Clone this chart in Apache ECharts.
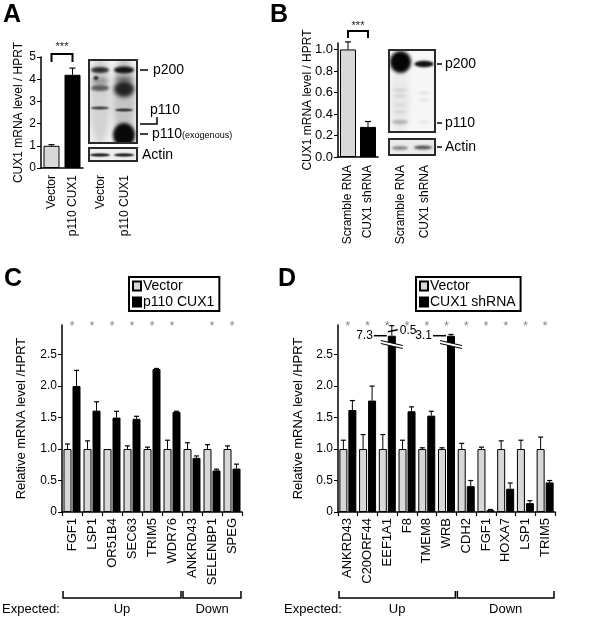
<!DOCTYPE html>
<html><head><meta charset="utf-8">
<script src="https://cdn.jsdelivr.net/npm/echarts@6/dist/echarts.min.js"></script>
<style>html,body{margin:0;padding:0;background:#fff}#c{width:600px;height:617px}</style>
</head><body><div id="c"></div>
<script>
// ---------------- DATA ----------------
const aCats = ['Vector', 'p110 CUX1'];
const aVals = [1.0, 4.2];
const aErr = [0.05, 0.3];
const aTicks = [0, 1, 2, 3, 4, 5];

const bCats = ['Scramble RNA', 'CUX1 shRNA'];
const bVals = [1.0, 0.28];
const bErr = [0.07, 0.05];
const bTicks = [0, 0.2, 0.4, 0.6, 0.8, 1.0];

const cCats = ['FGF1', 'LSP1', 'OR51B4', 'SEC63', 'TRIM5', 'WDR76', 'ANKRD43', 'SELENBP1', 'SPEG'];
const cVector = [1, 1, 1, 1, 1, 1, 1, 1, 1];
const cVectorErr = [0.08, 0.13, 0.0, 0.05, 0.03, 0.14, 0.1, 0.07, 0.05];
const cCux = [2.0, 1.61, 1.5, 1.48, 2.27, 1.59, 0.86, 0.66, 0.69];
const cCuxErr = [0.25, 0.14, 0.1, 0.04, 0.01, 0.01, 0.03, 0.02, 0.07];
const cSig = [0, 1, 2, 3, 4, 5, 7, 8];
const cGroups = [[0, 5], [6, 8]];
const cGroupNames = ['Up', 'Down'];

const dCats = ['ANKRD43', 'C20ORF44', 'EEF1A1', 'F8', 'TMEM8', 'WRB', 'CDH2', 'FGF1', 'HOXA7', 'LSP1', 'TRIM5'];
const dVector = [1, 1, 1, 1, 1, 1, 1, 1, 1, 1, 1];
const dVectorErr = [0.14, 0.23, 0.23, 0.14, 0.02, 0.02, 0.09, 0.03, 0.13, 0.14, 0.19];
const dSh = [1.62, 1.77, 7.3, 1.6, 1.53, 3.1, 0.41, 0.03, 0.37, 0.14, 0.47];
const dShErr = [0.15, 0.23, 0.5, 0.07, 0.07, 0.02, 0.09, 0.01, 0.09, 0.04, 0.03];
const dSig = [0, 1, 2, 3, 4, 5, 6, 7, 8, 9, 10];
const dGroups = [[0, 5], [6, 10]];
const dGroupNames = ['Up', 'Down'];

const cdTicks = [0, 0.5, 1.0, 1.5, 2.0, 2.5];
const BREAK_AT = 2.8;      // broken bars are drawn up to this value
const BREAK_ERR = 0.16;    // shown whisker on broken bars

// ---------------- STYLE ----------------
const FONT = '"Liberation Sans", Arial, Helvetica, sans-serif';
const GRAY = '#d8d8d8', BLACK = '#000';

const chart = echarts.init(document.getElementById('c'), null, {renderer: 'canvas'});

function yAx(grid, max, ticks, fmt, name, nameGap, labelSize, nameSize) {
  return {
    type: 'value', gridIndex: grid, min: 0, max: max,
    name: name, nameLocation: 'middle', nameGap: nameGap, nameMoveOverlap: false,
    nameTextStyle: {fontSize: nameSize, fontFamily: FONT, color: '#000'},
    axisLine: {show: true, lineStyle: {color: '#000', width: 1.5}},
    axisTick: {show: true, length: 4, customValues: ticks, lineStyle: {color: '#000', width: 1}},
    axisLabel: {fontSize: labelSize, fontFamily: FONT, color: '#000', margin: 5, customValues: ticks, formatter: fmt},
    splitLine: {show: false}
  };
}
function xAx(grid, cats, size, margin, ticks) {
  return {
    type: 'category', gridIndex: grid, data: cats,
    axisLine: {show: true, lineStyle: {color: '#000', width: 1.5}},
    axisTick: {show: ticks, length: 4, alignWithLabel: false, lineStyle: {color: '#000', width: 1.2}},
    axisLabel: {rotate: 90, interval: 0, fontSize: size, fontFamily: FONT, color: '#000', margin: margin},
    splitLine: {show: false}
  };
}
function errSeries(gi, vals, errs, offset, cap) {
  return {
    type: 'custom', xAxisIndex: gi, yAxisIndex: gi, silent: true, z: 5, clip: false,
    data: vals.map((v, i) => [i, v, errs[i]]),
    renderItem: (params, api) => {
      const i = api.value(0), v = api.value(1), e = api.value(2);
      if (!(e > 0.004)) return null;
      const p0 = api.coord([i, v]), p1 = api.coord([i, v + e]);
      const x = p0[0] + offset;
      return {type: 'group', children: [
        {type: 'line', shape: {x1: x, y1: p0[1], x2: x, y2: p1[1]}, style: {stroke: '#000', lineWidth: 1}},
        {type: 'line', shape: {x1: x - cap, y1: p1[1], x2: x + cap, y2: p1[1]}, style: {stroke: '#000', lineWidth: 1.2}}
      ]};
    }
  };
}
function starSeries(gi, idx, ymax) {
  return {
    type: 'custom', xAxisIndex: gi, yAxisIndex: gi, silent: true, clip: false, z: 6,
    data: idx.map(i => [i, ymax]),
    renderItem: (params, api) => {
      const p = api.coord([api.value(0), api.value(1)]);
      return {type: 'text', style: {text: '*', x: p[0], y: p[1] + 1, align: 'center', verticalAlign: 'middle',
        font: '13px ' + FONT, fill: '#8a8a8a'}};
    }
  };
}
function sigSeries(gi, ymax, dy1, dy2, dys) {
  return {
    type: 'custom', xAxisIndex: gi, yAxisIndex: gi, silent: true, clip: false, z: 6,
    data: [[0, 1]],
    renderItem: (params, api) => {
      const a = api.coord([api.value(0), ymax]), b = api.coord([api.value(1), ymax]);
      const y = a[1];
      return {type: 'group', children: [
        {type: 'polyline', shape: {points: [[a[0], y + dy2], [a[0], y + dy1], [b[0], y + dy1], [b[0], y + dy2]]},
          style: {stroke: '#000', lineWidth: 2, fill: null}},
        {type: 'text', style: {text: '***', x: (a[0] + b[0]) / 2, y: y + dys, align: 'center', verticalAlign: 'middle',
          font: '11px ' + FONT, fill: '#222'}}
      ]};
    }
  };
}
function groupSeries(gi, groups, names) {
  return {
    type: 'custom', xAxisIndex: gi, yAxisIndex: gi, silent: true, clip: false, z: 6,
    data: groups.map(g => [g[0], g[1]]),
    renderItem: (params, api) => {
      const from = api.value(0), to = api.value(1);
      const bw = api.size([1, 0])[0];
      const a = api.coord([from, 0]), b = api.coord([to, 0]);
      const x1 = a[0] - bw / 2 + 1, x2 = b[0] + bw / 2 - 1, y0 = a[1];
      return {type: 'group', children: [
        {type: 'polyline', shape: {points: [[x1, y0 + 79], [x1, y0 + 86], [x2, y0 + 86], [x2, y0 + 79]]},
          style: {stroke: '#000', lineWidth: 1.5, fill: null}},
        {type: 'text', style: {text: names[params.dataIndex], x: (x1 + x2) / 2, y: y0 + 97, align: 'center',
          verticalAlign: 'middle', font: '13px ' + FONT, fill: '#000'}}
      ]};
    }
  };
}
const dShown = dSh.map(v => Math.min(v, BREAK_AT));
const dShownErr = dShErr.map((e, i) => dSh[i] > BREAK_AT ? (e > 0.1 ? BREAK_ERR : e) : e);
const breakSeries = {
  type: 'custom', xAxisIndex: 3, yAxisIndex: 3, silent: true, clip: false, z: 7,
  data: dSh.map((v, i) => [i, v, dShErr[i]]).filter(d => d[1] > BREAK_AT),
  renderItem: (params, api) => {
    const i = api.value(0), v = api.value(1), e = api.value(2);
    const top = api.coord([i, BREAK_AT]);
    const x = top[0] + 4.5;
    const by = api.coord([i, 2.66])[1];
    const left = x - 4;
    const ch = [
      {type: 'polygon', shape: {points: [[x - 11, by - 4], [x + 11, by + 1], [x + 11, by + 4], [x - 11, by - 1]]},
        style: {fill: '#fff', stroke: null}},
      {type: 'line', shape: {x1: x - 11, y1: by - 4, x2: x + 11, y2: by + 1}, style: {stroke: '#000', lineWidth: 1}},
      {type: 'line', shape: {x1: x - 11, y1: by - 1, x2: x + 11, y2: by + 4}, style: {stroke: '#000', lineWidth: 1}},
      {type: 'line', shape: {x1: left - 14, y1: top[1], x2: left - 1, y2: top[1]}, style: {stroke: '#000', lineWidth: 1.5}},
      {type: 'text', style: {text: String(v), x: left - 15, y: top[1], align: 'right', verticalAlign: 'middle',
        font: '12px ' + FONT, fill: '#000'}}
    ];
    if (e > BREAK_ERR) {
      const wy = api.coord([i, BREAK_AT + BREAK_ERR / 2])[1];
      ch.push({type: 'line', shape: {x1: x - 4, y1: wy + 1, x2: x + 6, y2: wy - 1}, style: {stroke: '#000', lineWidth: 1.5}});
      ch.push({type: 'text', style: {text: String(e), x: x + 8, y: wy, align: 'left', verticalAlign: 'middle',
        font: '12px ' + FONT, fill: '#000'}});
    }
    return {type: 'group', children: ch};
  }
};

// ---------------- BLOTS (decorative images) ----------------
function makeCanvas(w, h, draw) {
  const cv = document.createElement('canvas');
  cv.width = w * 2; cv.height = h * 2;
  const ctx = cv.getContext('2d');
  ctx.scale(2, 2);
  draw(ctx, w, h);
  return cv;
}
function blob(ctx, cx, cy, rx, ry, color, blur) {
  ctx.save();
  ctx.filter = 'blur(' + (blur * 2) + 'px)';
  ctx.fillStyle = color;
  ctx.beginPath(); ctx.ellipse(cx, cy, rx, ry, 0, 0, Math.PI * 2); ctx.fill();
  ctx.restore();
}
const blotA = makeCanvas(48, 83, (ctx, w, h) => {
  ctx.fillStyle = '#f0f0f0'; ctx.fillRect(0, 0, w, h);
  blob(ctx, 11, 40, 10, 44, 'rgba(0,0,0,0.12)', 3);
  blob(ctx, 35, 40, 11, 44, 'rgba(0,0,0,0.18)', 3);
  blob(ctx, 11, 10, 9, 3, '#2a2a2a', 1.2);
  blob(ctx, 11, 21, 8, 4, '#999', 2);
  blob(ctx, 7, 18, 2.5, 2, '#333', 0.8);
  blob(ctx, 11, 28, 9, 3, '#5a5a5a', 1.4);
  blob(ctx, 11, 48, 9, 1.5, '#444', 0.8);
  blob(ctx, 35, 10, 10, 3.5, '#111', 1.2);
  blob(ctx, 35, 19, 9, 3, '#777', 2);
  blob(ctx, 35, 29, 10, 8, '#222', 2);
  blob(ctx, 35, 50, 9, 1.5, '#333', 0.8);
  blob(ctx, 35, 75, 11, 12, '#080808', 1.5);
});
const actinA = makeCanvas(48, 13, (ctx, w, h) => {
  ctx.fillStyle = '#eeeeee'; ctx.fillRect(0, 0, w, h);
  blob(ctx, 11, 7, 10, 1.6, '#222', 0.8);
  blob(ctx, 35, 7, 10, 1.6, '#222', 0.8);
});
const blotB = makeCanvas(46, 82, (ctx, w, h) => {
  ctx.fillStyle = '#f7f7f7'; ctx.fillRect(0, 0, w, h);
  blob(ctx, 11, 50, 10, 36, 'rgba(0,0,0,0.05)', 3);
  blob(ctx, 11.5, 12, 10.5, 11, '#050505', 1.5);
  blob(ctx, 35, 14, 9.5, 3.2, '#111', 1);
  blob(ctx, 11, 40, 7, 1.5, '#cfcfcf', 1.2);
  blob(ctx, 11, 46, 7, 1.5, '#d2d2d2', 1.2);
  blob(ctx, 11, 55, 7, 1.5, '#d6d6d6', 1.2);
  blob(ctx, 11, 62, 7, 1.5, '#d0d0d0', 1.2);
  blob(ctx, 11, 72, 8, 2.2, '#b2b2b2', 1.2);
  blob(ctx, 35, 43, 6, 1.2, '#dddddd', 1.2);
  blob(ctx, 35, 50, 6, 1.2, '#e0e0e0', 1.2);
  blob(ctx, 35, 72, 6, 1.5, '#e4e4e4', 1.2);
});
const actinB = makeCanvas(46, 16, (ctx, w, h) => {
  ctx.fillStyle = '#ececec'; ctx.fillRect(0, 0, w, h);
  blob(ctx, 11, 9, 8, 2, '#888', 1);
  blob(ctx, 34, 8.5, 9, 2, '#555', 1);
});

function txt(text, x, y, size, extra) {
  return Object.assign({type: 'text', x: x, y: y, silent: true,
    style: {text: text, font: size + 'px ' + FONT, fill: '#000', align: 'left', verticalAlign: 'middle'}}, extra || {});
}
function rtxt(text, x, y, size) {
  return {type: 'text', x: x, y: y, rotation: Math.PI / 2, silent: true,
    style: {text: text, font: size + 'px ' + FONT, fill: '#000', align: 'right', verticalAlign: 'middle'}};
}
function seg(x1, y1, x2, y2, w) {
  return {type: 'line', silent: true, shape: {x1: x1, y1: y1, x2: x2, y2: y2}, style: {stroke: '#000', lineWidth: w || 1.5}};
}
function box(x, y, w, h) {
  return {type: 'rect', silent: true, shape: {x: x, y: y, width: w, height: h}, style: {fill: null, stroke: '#2a2a2a', lineWidth: 2}};
}
function img(cv, x, y, w, h) {
  return {type: 'image', silent: true, style: {image: cv, x: x, y: y, width: w, height: h}};
}
const letter = (t, x, y) => ({type: 'text', x: x, y: y, silent: true,
  style: {text: t, font: 'bold 25px ' + FONT, fill: '#000', align: 'left', verticalAlign: 'top'}});

const graphic = [
  letter('A', 3, 3), letter('B', 270, 3), letter('C', 4, 267), letter('D', 278, 267),
  img(blotA, 89, 60, 48, 83), box(89, 60, 48, 83),
  img(actinA, 89, 148, 48, 13), box(89, 148, 48, 13),
  seg(140, 70, 148, 70), txt('p200', 153, 70, 14),
  txt('p110', 150, 110, 14),
  {type: 'polyline', silent: true, shape: {points: [[140, 124], [157, 124], [157, 117]]}, style: {stroke: '#000', lineWidth: 1.5, fill: null}},
  seg(140, 134, 148, 134),
  {type: 'text', x: 152, y: 134, silent: true, style: {text: '{a|p110}{b|(exogenous)}', verticalAlign: 'middle', align: 'left',
    rich: {a: {fontSize: 14, fontFamily: FONT, fill: '#000'}, b: {fontSize: 9, fontFamily: FONT, fill: '#000', padding: [3, 0, 0, 0]}}}},
  txt('Actin', 142, 155, 14),
  rtxt('Vector', 101, 175, 12), rtxt('p110 CUX1', 125, 175, 12),

  img(blotB, 389, 50, 46, 82), box(389, 50, 46, 82),
  img(actinB, 389, 139, 46, 16), box(389, 139, 46, 16),
  seg(437, 64, 442, 64), txt('p200', 445, 64, 14),
  seg(437, 123, 442, 123), txt('p110', 445, 123, 14),
  seg(437, 147, 442, 147), txt('Actin', 445, 147, 14),
  rtxt('Scramble RNA', 401, 165, 12), rtxt('CUX1 shRNA', 425, 165, 12),

  txt('Expected:', 2, 609, 13), txt('Expected:', 284, 609, 13)
];

const fmt1 = v => (v === 0 ? '0' : v.toFixed(1));
const legendBase = {orient: 'vertical', icon: 'rect', itemWidth: 8, itemHeight: 9, itemGap: 2,
  padding: [2, 5, 2, 3], borderColor: '#000', borderWidth: 2, selectedMode: false,
  textStyle: {fontSize: 14, fontFamily: FONT, color: '#000', padding: [0, 0, 0, -3]}};

const option = {
  animation: false,
  backgroundColor: '#fff',
  textStyle: {fontFamily: FONT},
  grid: [
    {left: 41, top: 57, width: 42, height: 111},
    {left: 338, top: 43, width: 40, height: 114},
    {left: 62, top: 325, width: 180, height: 187},
    {left: 338, top: 325, width: 217, height: 187}
  ],
  xAxis: [
    xAx(0, aCats, 12, 7, false),
    xAx(1, bCats, 12, 8, false),
    xAx(2, cCats, 13, 6, true),
    xAx(3, dCats, 13, 6, true)
  ],
  yAxis: [
    yAx(0, 5, aTicks, v => String(v), 'CUX1 mRNA level / HPRT', 16, 12, 12),
    yAx(1, 1.06, bTicks, v => v.toFixed(1), 'CUX1 mRNA level / HPRT', 24, 13, 12),
    yAx(2, 2.97, cdTicks, fmt1, 'Relative mRNA level /HPRT', 34, 12, 13),
    yAx(3, 2.97, cdTicks, fmt1, 'Relative mRNA level /HPRT', 33, 12, 13)
  ],
  legend: [
    Object.assign({}, legendBase, {left: 129, top: 277, data: ['Vector', 'p110 CUX1']}),
    Object.assign({}, legendBase, {left: 416, top: 277, data: ['Vector', 'CUX1 shRNA']})
  ],
  graphic: graphic,
  series: [
    {name: 'A', type: 'bar', xAxisIndex: 0, yAxisIndex: 0, barWidth: 16,
      data: aVals.map((v, i) => ({value: v, itemStyle: {color: i === 0 ? GRAY : BLACK}})),
      itemStyle: {borderColor: '#000', borderWidth: 1}},
    errSeries(0, aVals, aErr, 0, 3),
    sigSeries(0, 5, -3, 5, -10),
    {name: 'B', type: 'bar', xAxisIndex: 1, yAxisIndex: 1, barWidth: 16,
      data: bVals.map((v, i) => ({value: v, itemStyle: {color: i === 0 ? GRAY : BLACK}})),
      itemStyle: {borderColor: '#000', borderWidth: 1}},
    errSeries(1, bVals, bErr, 0, 3),
    sigSeries(1, 1.06, -12, -5, -17),

    {name: 'Vector', type: 'bar', xAxisIndex: 2, yAxisIndex: 2, barWidth: 8, barGap: '12.5%', data: cVector,
      itemStyle: {color: GRAY, borderColor: '#000', borderWidth: 1}},
    {name: 'p110 CUX1', type: 'bar', xAxisIndex: 2, yAxisIndex: 2, barWidth: 8, barGap: '12.5%', data: cCux,
      itemStyle: {color: BLACK, borderColor: '#000', borderWidth: 1}},
    errSeries(2, cVector, cVectorErr, -4.5, 2.5),
    errSeries(2, cCux, cCuxErr, 4.5, 2.5),
    starSeries(2, cSig, 2.97),
    groupSeries(2, cGroups, cGroupNames),

    {name: 'Vector', type: 'bar', xAxisIndex: 3, yAxisIndex: 3, barWidth: 8, barGap: '12.5%', data: dVector,
      itemStyle: {color: GRAY, borderColor: '#000', borderWidth: 1}},
    {name: 'CUX1 shRNA', type: 'bar', xAxisIndex: 3, yAxisIndex: 3, barWidth: 8, barGap: '12.5%', data: dShown,
      itemStyle: {color: BLACK, borderColor: '#000', borderWidth: 1}},
    errSeries(3, dVector, dVectorErr, -4.5, 2.5),
    errSeries(3, dShown, dShownErr, 4.5, 2.5),
    starSeries(3, dSig, 2.97),
    breakSeries,
    groupSeries(3, dGroups, dGroupNames)
  ]
};
chart.setOption(option);
</script>
</body></html>
